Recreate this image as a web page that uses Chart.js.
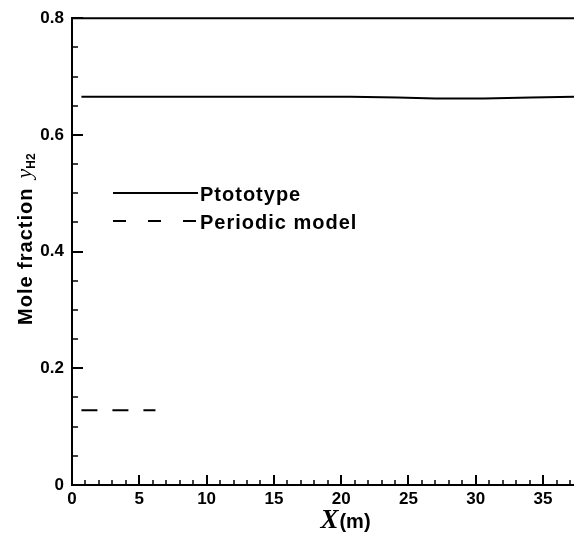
<!DOCTYPE html>
<html>
<head>
<meta charset="utf-8">
<script src="https://cdn.jsdelivr.net/npm/chart.js@4.4.0/dist/chart.umd.min.js"></script>
<style>
  html, body { margin: 0; padding: 0; background: #fff; }
  #wrap { width: 574px; height: 533px; }
</style>
</head>
<body>
<div id="wrap"><canvas id="chartId"></canvas></div>
<script>
// values
const protoX = [0.7, 20.7, 24.2, 27.0, 30.6, 34.1, 37.3];
const protoY = [0.6655, 0.6655, 0.664, 0.6625, 0.6625, 0.664, 0.6655];
const periodicX = [0.7, 6.2];
const periodicY = [0.128, 0.128];
const xTicks = [0, 5, 10, 15, 20, 25, 30, 35];
const yTickLabels = ['0', '0.2', '0.4', '0.6', '0.8'];
const seriesNames = ['Ptototype', 'Periodic model'];

const toPoints = (xs, ys) => xs.map((x, i) => ({ x: x, y: ys[i] }));

// inward ticks, top frame line, legend and axis titles
const decor = {
  id: 'decor',
  afterDraw(chart) {
    const ctx = chart.ctx;
    const xs = chart.scales.x, ys = chart.scales.y;
    const a = chart.chartArea;
    ctx.save();
    ctx.strokeStyle = '#000';
    ctx.lineWidth = 2;
    // top frame
    ctx.beginPath();
    ctx.moveTo(a.left - 1, a.top);
    ctx.lineTo(a.right, a.top);
    ctx.stroke();
    // x ticks every 1, major every 5
    for (let i = 0; i <= 37; i++) {
      const px = Math.round(xs.getPixelForValue(i));
      const len = i % 5 === 0 ? 10 : 5;
      ctx.lineWidth = i % 5 === 0 ? 2 : 1.5;
      ctx.beginPath();
      ctx.moveTo(px, a.bottom);
      ctx.lineTo(px, a.bottom - len);
      ctx.stroke();
    }
    // y ticks every 0.05, major every 0.2
    for (let k = 0; k <= 16; k++) {
      const py = Math.round(ys.getPixelForValue(k * 0.05));
      const len = k % 4 === 0 ? 11 : 6;
      ctx.lineWidth = k % 4 === 0 ? 2 : 1.5;
      ctx.beginPath();
      ctx.moveTo(a.left, py);
      ctx.lineTo(a.left + len, py);
      ctx.stroke();
    }
    // legend
    ctx.lineWidth = 2;
    ctx.beginPath();
    ctx.moveTo(113, 193);
    ctx.lineTo(198, 193);
    ctx.stroke();
    ctx.setLineDash([13, 22]);
    ctx.beginPath();
    ctx.moveTo(113, 221);
    ctx.lineTo(198, 221);
    ctx.stroke();
    ctx.setLineDash([]);
    ctx.fillStyle = '#000';
    ctx.letterSpacing = '1px';
    ctx.font = 'bold 20px "Liberation Sans", Arial, sans-serif';
    ctx.textBaseline = 'alphabetic';
    ctx.textAlign = 'left';
    ctx.fillText(seriesNames[0], 200, 201);
    ctx.fillText(seriesNames[1], 200, 229);
    // x title
    ctx.letterSpacing = '0px';
    ctx.font = 'italic bold 27px "Liberation Serif", "Times New Roman", serif';
    const wX = ctx.measureText('X').width;
    ctx.font = 'bold 20px "Liberation Sans", Arial, sans-serif';
    const wM = ctx.measureText('(m)').width;
    let sx = 345 - (wX + wM) / 2;
    ctx.font = 'italic bold 27px "Liberation Serif", "Times New Roman", serif';
    ctx.fillText('X', sx, 528);
    ctx.font = 'bold 20px "Liberation Sans", Arial, sans-serif';
    ctx.fillText('(m)', sx + wX + 1, 528);
    // y title, rotated
    ctx.translate(32, 325);
    ctx.rotate(-Math.PI / 2);
    ctx.letterSpacing = '1px';
    ctx.font = 'bold 20px "Liberation Sans", Arial, sans-serif';
    ctx.fillText('Mole fraction', 0, 0);
    let off = ctx.measureText('Mole fraction').width + 9;
    ctx.letterSpacing = '0px';
    ctx.font = 'italic 22px "Liberation Serif", "Times New Roman", serif';
    ctx.fillText('y', off, -1);
    off += ctx.measureText('y').width;
    ctx.font = 'bold 12px "Liberation Sans", Arial, sans-serif';
    ctx.fillText('H2', off, 3);
    ctx.restore();
  }
};

const data = {
  datasets: [
    {
      label: seriesNames[0],
      data: toPoints(protoX, protoY),
      borderColor: '#000',
      borderWidth: 2,
      pointRadius: 0,
      fill: false,
      tension: 0
    },
    {
      label: seriesNames[1],
      data: toPoints(periodicX, periodicY),
      borderColor: '#000',
      borderWidth: 2,
      borderDash: [16, 15],
      pointRadius: 0,
      fill: false,
      tension: 0
    }
  ]
};

const tickFont = { family: '"Liberation Sans", Arial, sans-serif', size: 17, weight: 'bold' };

const options = {
  responsive: false,
  animation: false,
  layout: { padding: { top: 18, right: 0, left: 0, bottom: 0 } },
  plugins: { legend: { display: false }, tooltip: { enabled: false } },
  scales: {
    x: {
      type: 'linear',
      min: 0,
      max: 37.3,
      afterFit: s => { s.height = 48; },
      afterBuildTicks: s => { s.ticks = xTicks.map(v => ({ value: v })); },
      grid: { display: false, drawTicks: false },
      border: { display: true, color: '#000', width: 2 },
      ticks: { color: '#000', font: tickFont, padding: 4, maxRotation: 0 }
    },
    y: {
      min: 0,
      max: 0.8,
      afterFit: s => { s.width = 72; },
      afterBuildTicks: s => { s.ticks = yTickLabels.map(t => ({ value: parseFloat(t) })); },
      grid: { display: false, drawTicks: false },
      border: { display: true, color: '#000', width: 2 },
      ticks: {
        color: '#000',
        font: tickFont,
        padding: 8,
        callback: (v, i) => yTickLabels[i]
      }
    }
  }
};

const canvas = document.getElementById('chartId');
canvas.width = 574;
canvas.height = 533;
const chart = new Chart(canvas.getContext('2d'), {
  type: 'line',
  data: data,
  options: options,
  plugins: [decor]
});
</script>
</body>
</html>
